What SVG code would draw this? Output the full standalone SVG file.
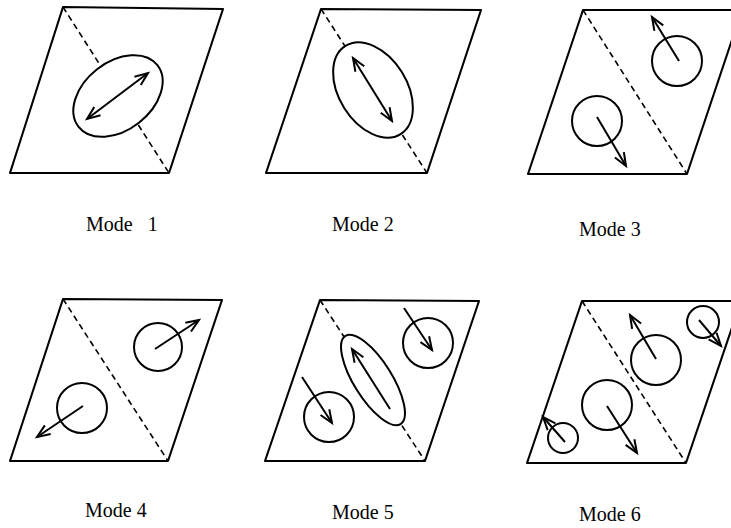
<svg xmlns="http://www.w3.org/2000/svg" width="731" height="528" viewBox="0 0 731 528">
<style>
.frame{fill:#fff;stroke:#000;stroke-width:2.1;stroke-linejoin:round}
.dash{fill:none;stroke:#000;stroke-width:1.6;stroke-dasharray:6,4}
.blob{fill:#fff;stroke:#000;stroke-width:2}
.arr{fill:none;stroke:#000;stroke-width:2;marker-end:url(#ah)}
.arr2{fill:none;stroke:#000;stroke-width:2;marker-end:url(#ah);marker-start:url(#ah)}
.lbl{font-family:"Liberation Serif","Times New Roman",serif;font-size:20px;fill:#000}
</style>
<defs>
<marker id="ah" viewBox="0 0 14 12" refX="13" refY="6" markerWidth="14" markerHeight="12" markerUnits="userSpaceOnUse" orient="auto-start-reverse" overflow="visible">
<path d="M0,0.8 L13,6 L0,11.2" fill="none" stroke="#000" stroke-width="2"/>
</marker>
</defs>
<rect width="731" height="528" fill="#fff"/>

<g id="mode1">
<polygon class="frame" points="63,7 223,9 169,173 10,173"/>
<line class="dash" x1="63" y1="7" x2="169" y2="173"/>
<ellipse class="blob" cx="118" cy="96" rx="50" ry="34" transform="rotate(-38 118 96)"/>
<line class="arr2" x1="87" y1="119" x2="148" y2="73"/>
</g>

<g id="mode2">
<polygon class="frame" points="321,9 481,10 427,173 266,173"/>
<line class="dash" x1="321" y1="9" x2="427" y2="173"/>
<ellipse class="blob" cx="373" cy="90" rx="52" ry="34" transform="rotate(58 373 90)"/>
<line class="arr2" x1="353" y1="58" x2="392" y2="121"/>
</g>

<g id="mode3">
<polygon class="frame" points="583,10 742,10 687,174 528,174"/>
<line class="dash" x1="583" y1="10" x2="687" y2="174"/>
<circle class="blob" cx="677" cy="61" r="25"/>
<line class="arr" x1="679" y1="61" x2="652" y2="17"/>
<circle class="blob" cx="597" cy="121" r="25"/>
<line class="arr" x1="597" y1="117" x2="626" y2="166"/>
</g>

<g id="mode4">
<polygon class="frame" points="63,299 222,300 168,461 10,461"/>
<line class="dash" x1="63" y1="299" x2="168" y2="461"/>
<circle class="blob" cx="158" cy="347" r="24"/>
<line class="arr" x1="155" y1="349" x2="199" y2="320"/>
<circle class="blob" cx="82" cy="408" r="25"/>
<line class="arr" x1="83" y1="406" x2="37" y2="437"/>
</g>

<g id="mode5">
<polygon class="frame" points="320,300 479,301 425,461 265,461"/>
<line class="dash" x1="320" y1="300" x2="425" y2="461"/>
<ellipse class="blob" cx="373" cy="380" rx="52" ry="19" transform="rotate(58 373 380)"/>
<line class="arr" x1="390" y1="409" x2="352" y2="349"/>
<circle class="blob" cx="428" cy="343" r="25"/>
<line class="arr" x1="404" y1="308" x2="432" y2="350"/>
<circle class="blob" cx="329" cy="417" r="25"/>
<line class="arr" x1="302" y1="377" x2="332" y2="423"/>
</g>

<g id="mode6">
<polygon class="frame" points="582,301 741,301 686,463 527,463"/>
<line class="dash" x1="582" y1="301" x2="686" y2="463"/>
<circle class="blob" cx="656" cy="360" r="25"/>
<line class="arr" x1="656" y1="359" x2="630" y2="315"/>
<circle class="blob" cx="703" cy="322" r="16"/>
<line class="arr" x1="699" y1="320" x2="721" y2="346"/>
<circle class="blob" cx="607" cy="405" r="25"/>
<line class="arr" x1="607" y1="406" x2="637" y2="453"/>
<circle class="blob" cx="563" cy="438" r="15"/>
<line class="arr" x1="565" y1="442" x2="543" y2="417"/>
</g>

<g id="labels">
<text class="lbl" x="86" y="231" xml:space="preserve">Mode   1</text>
<text class="lbl" x="332" y="231">Mode 2</text>
<text class="lbl" x="579" y="236">Mode 3</text>
<text class="lbl" x="85" y="517">Mode 4</text>
<text class="lbl" x="332" y="519">Mode 5</text>
<text class="lbl" x="579" y="521">Mode 6</text>
</g>
</svg>
